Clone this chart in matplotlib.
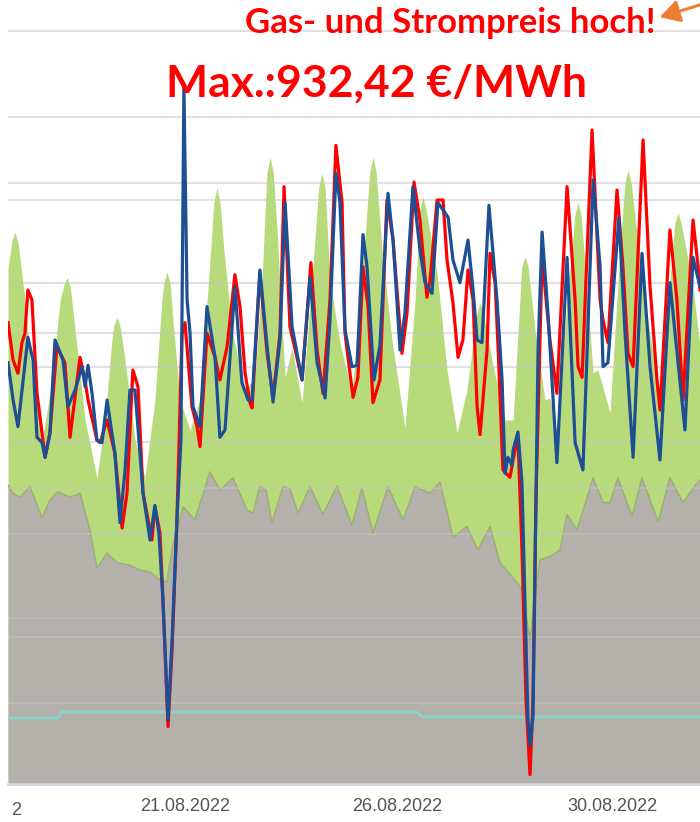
import matplotlib
matplotlib.use("Agg")
import matplotlib.pyplot as plt

# ---------------- data (x: hours from left edge of the view, y: €/MWh scale) -------------
green_x = [0.0, 1.8, 3.3, 4.8, 8.0, 11.3, 16.5, 20.8, 24.6, 26.4, 27.9, 29.4, 31.7, 36.4, 42.0,
           45.8, 49.1, 50.0, 51.5, 53.0, 55.3, 60.0, 64.7, 69.4, 72.7, 73.6, 75.1, 76.6, 77.9,
           81.3, 86.0, 90.7, 95.4, 97.2, 98.7, 100.2, 102.0, 105.8, 112.0, 116.7, 120.0, 122.3,
           123.8, 125.3, 127.1, 130.9, 134.2, 138.9, 143.6, 146.8, 148.3, 149.8, 152.1, 156.8,
           162.5, 167.2, 170.9, 172.4, 173.9, 176.7, 181.4, 187.5, 192.3, 194.5, 196.0, 197.5,
           202.7, 207.4, 212.1, 216.8, 221.5, 223.0, 224.5, 228.6, 234.8, 238.6, 242.7, 244.2,
           245.7, 249.0, 253.7, 256.0, 259.3, 264.1, 267.8, 269.3, 270.8, 276.4, 278.7, 284.4,
           289.1, 291.4, 292.9, 294.4, 298.6, 301.9, 308.0, 312.7, 315.0, 316.5, 318.0, 323.6,
           326.9]
green_y = [678, 718, 732, 715, 630, 510, 427, 510, 630, 652, 664, 650, 585, 450, 363,
           450, 570, 592, 604, 590, 540, 420, 364, 480, 630, 655, 672, 655, 600,
           480, 435, 480, 690, 775, 798, 775, 705, 585, 495, 514, 660, 820,
           844, 822, 735, 514, 558, 476, 660, 800, 820, 798, 660, 566,
           490, 660, 822, 844, 822, 705, 570, 438, 630, 765, 785, 765,
           670, 525, 431, 495, 610, 626, 610, 540, 450, 450, 680, 695,
           680, 585, 480, 483, 431, 630, 758, 776, 756, 521, 525, 461,
           705, 805, 825, 805, 690, 605, 488, 660, 745, 761, 745, 650,
           560]

gray_x = [0.0, 2.4, 5.7, 10.4, 16.1, 19.8, 23.6, 29.3, 34.0, 38.7, 42.0, 46.8, 51.5, 57.6, 62.4,
          67.1, 71.8, 75.1, 77.9, 82.7, 88.3, 95.4, 100.1, 106.3, 112.9, 115.7, 119.0, 121.9,
          124.7, 129.9, 133.2, 137.0, 142.7, 148.8, 155.4, 162.5, 167.2, 172.4, 179.5, 186.6,
          192.3, 199.4, 204.1, 210.2, 216.8, 222.0, 227.7, 232.4, 240.5, 242.8, 246.6, 249.9,
          251.3, 256.0, 260.8, 264.1, 268.8, 276.4, 281.1, 284.4, 288.1, 294.8, 299.5, 307.1,
          312.7, 318.9, 325.9, 326.9]
gray_y = [352, 340, 334, 350, 303, 330, 342, 334, 340, 285, 228, 250, 236, 232, 225,
          222, 210, 207, 262, 320, 300, 372, 345, 363, 315, 310, 350, 345,
          296, 350, 347, 310, 350, 308, 351, 292, 348, 280, 350, 300,
          350, 340, 357, 274, 290, 255, 290, 236, 206, 195, 120, 210,
          240, 245, 255, 308, 285, 363, 326, 326, 363, 305, 363, 297,
          363, 326, 357, 360]

red_x = [0.0, 2.4, 4.7, 6.6, 8.0, 9.4, 11.3, 13.7, 16.1, 17.5, 19.8, 23.1, 26.9, 29.3, 34.0,
         36.4, 37.8, 42.0, 43.5, 46.8, 50.5, 53.9, 56.2, 59.0, 61.4, 63.8, 68.0, 69.4, 71.8,
         73.2, 75.6, 77.5, 79.8, 82.2, 83.6, 86.9, 89.3, 90.7, 94.0, 97.8, 100.1, 103.5,
         107.2, 109.6, 112.0, 114.3, 115.3, 119.0, 122.4, 125.2, 128.5, 130.4, 133.2, 138.9,
         143.1, 146.0, 148.8, 152.1, 154.9, 157.8, 159.2, 163.0, 165.3, 167.7, 170.1, 172.4,
         175.7, 179.0, 181.9, 186.1, 188.5, 191.8, 194.6, 197.9, 199.4, 202.7, 205.5, 207.4,
         210.2, 212.6, 214.9, 217.3, 219.7, 221.6, 223.0, 226.3, 227.7, 230.1, 231.5, 233.8,
         237.1, 239.5, 240.9, 242.8, 244.7, 246.6, 248.0, 249.4, 252.3, 256.0, 259.3, 264.1,
         267.9, 269.3, 271.2, 275.9, 279.7, 281.1, 283.4, 287.7, 290.5, 292.9, 295.3, 300.0,
         303.3, 306.6, 308.0, 312.7, 316.0, 318.9, 323.6, 326.0, 326.9]
red_y = [596, 540, 520, 566, 580, 645, 630, 490, 430, 394, 430, 560, 536, 424, 544,
         510, 480, 420, 416, 450, 400, 288, 340, 525, 500, 340, 270, 320, 280,
         180, -10, 105, 300, 580, 596, 470, 440, 410, 580, 544, 510, 560,
         668, 620, 520, 476, 468, 670, 550, 484, 580, 800, 590, 510,
         686, 555, 490, 630, 862, 776, 580, 484, 514, 680, 620, 476,
         510, 780, 720, 550, 610, 807, 750, 634, 660, 780, 780, 690,
         626, 544, 570, 675, 630, 470, 428, 555, 700, 656, 560, 375,
         364, 405, 424, 255, 30, -82, 30, 330, 694, 570, 490, 800,
         630, 530, 514, 885, 630, 600, 566, 795, 680, 550, 530, 870,
         650, 510, 465, 735, 630, 480, 750, 680, 645]

blue_x = [0.0, 2.4, 4.7, 9.4, 11.8, 13.7, 16.1, 17.5, 19.8, 22.2, 26.0, 28.3, 31.7, 35.0, 36.4,
          37.8, 39.7, 42.0, 44.4, 46.8, 50.5, 52.9, 55.3, 57.6, 60.0, 63.8, 67.1, 69.4, 71.3,
          73.2, 75.6, 77.5, 79.8, 81.7, 83.1, 84.6, 86.0, 87.4, 90.7, 94.0, 97.8, 100.1, 102.5,
          107.2, 110.5, 113.4, 115.3, 119.0, 122.4, 125.2, 128.5, 130.9, 134.2, 138.9, 142.7,
          146.0, 149.8, 152.1, 154.9, 156.8, 159.2, 162.5, 164.9, 167.7, 169.6, 172.9, 175.7,
          179.5, 181.9, 185.2, 187.5, 191.3, 194.6, 197.0, 200.3, 203.1, 207.9, 210.2, 213.5,
          217.3, 219.7, 221.6, 223.9, 227.2, 231.0, 233.4, 234.8, 236.2, 238.1, 238.6, 240.9,
          242.8, 245.6, 246.6, 248.0, 250.4, 252.3, 255.2, 259.3, 264.1, 267.9, 271.6, 276.4,
          279.7, 281.1, 283.4, 288.6, 291.5, 295.3, 299.5, 303.3, 308.0, 312.7, 317.5, 319.8,
          323.6, 326.9]
blue_y = [536, 480, 440, 574, 540, 424, 416, 394, 430, 570, 540, 470, 495, 530, 500,
          532, 490, 420, 416, 480, 400, 296, 375, 495, 495, 340, 270, 322, 280,
          180, 0, 120, 300, 420, 950, 630, 580, 470, 440, 620, 544, 424, 435,
          650, 506, 480, 480, 675, 560, 477, 570, 776, 590, 510, 664,
          536, 483, 600, 820, 777, 585, 530, 532, 728, 680, 510, 562,
          790, 720, 555, 610, 800, 705, 656, 640, 776, 754, 690, 656,
          720, 645, 570, 566, 772, 630, 510, 370, 394, 382, 405, 432,
          356, 4, -38, 4, 555, 732, 604, 386, 694, 416, 375, 810,
          680, 530, 536, 754, 580, 394, 700, 530, 390, 656, 506, 435,
          694, 650]

cyan_x = [0.0, 23.6, 25.5, 193.2, 195.6, 326.9]
cyan_y = [3, 3, 12, 12, 4.5, 4.5]

grid_levels = [1033.5, 904.5, 805.5, 780, 655.5, 580.5, 529.5, 417, 348, 279, 153, 124.5, 25.5]

tick_pos = [83.6, 183.8, 285.3]
tick_labels = ["21.08.2022", "26.08.2022", "30.08.2022"]
edge_label = "2"

title_top = "Gas- und Strompreis hoch!"
title_max = "Max.:932,42 €/MWh"

# ---------------- figure ----------------
fig = plt.figure(figsize=(7.0, 8.22), dpi=100)
ax = fig.add_axes([8 / 700, 38 / 822, 692 / 700, 784 / 822])
ax.set_xlim(0, 326.9)
ax.set_ylim(-96, 1080)
ymin = ax.get_ylim()[0]

ax.fill_between(green_x, green_y, ymin, color="#b7db7b", lw=0, zorder=1)
ax.fill_between(gray_x, gray_y, ymin, color="#b4b1ac", lw=0, zorder=2)
ax.plot(gray_x, gray_y, color="#a2ad7c", lw=1.2, zorder=2.5)

for g in grid_levels:
    ax.axhline(g, color="#c4c4c4", alpha=0.5, lw=1.5, zorder=3)

ax.plot(cyan_x, cyan_y, color="#84d6c8", lw=2.0, zorder=4)
ax.plot(red_x, red_y, color="#ff0000", lw=2.3, zorder=5, solid_joinstyle="round")
ax.plot(blue_x, blue_y, color="#1d4f95", lw=2.3, zorder=6, solid_joinstyle="round")

for s in ["top", "left", "right"]:
    ax.spines[s].set_visible(False)
ax.spines["bottom"].set_color("#d2d5e3")
ax.spines["bottom"].set_linewidth(2)
ax.set_yticks([])
ax.set_xticks(tick_pos)
ax.set_xticklabels(tick_labels, fontfamily="Liberation Sans")
ax.tick_params(axis="x", length=0, pad=10, labelsize=13, labelcolor="#555555")

fig.text(11 / 700, 1 - 815 / 822, edge_label, ha="left", va="baseline",
         fontsize=13, color="#555555", family="Liberation Sans")

fig.text(450 / 700, 1 - 33 / 822, title_top, ha="center", va="baseline",
         fontsize=25, fontweight="bold", color="#ff0000", family="Lato")
fig.text(376 / 700, 1 - 97 / 822, title_max, ha="center", va="baseline",
         fontsize=32, fontweight="bold", color="#ff0000", family="Lato")

fig.patches.append(matplotlib.patches.FancyArrowPatch(
    (703 / 700, 1 - 4 / 822), (657 / 700, 1 - 18 / 822), transform=fig.transFigure,
    arrowstyle="-|>,head_length=8,head_width=4.5", color="#ed7d31", lw=2.2, mutation_scale=1.5))

fig.savefig("out.png", dpi=100)
